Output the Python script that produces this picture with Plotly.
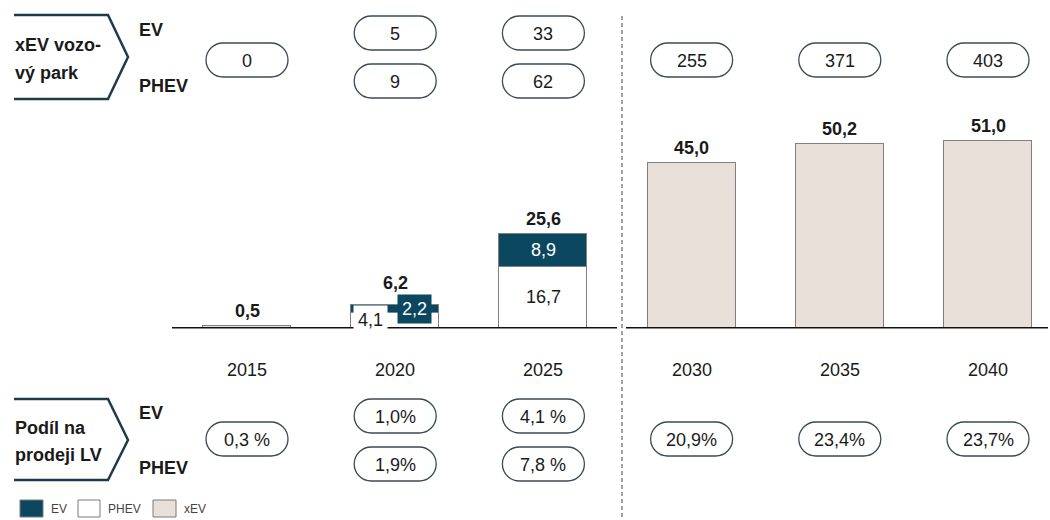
import plotly.graph_objects as go

# ---------------- data ----------------
years = ["2015", "2020", "2025", "2030", "2035", "2040"]
ev_sales = [None, 2.2, 8.9, None, None, None]
phev_sales = [None, 4.1, 16.7, None, None, None]
xev_sales = [0.5, None, None, 45.0, 50.2, 51.0]
total_sales = [0.5, 6.2, 25.6, 45.0, 50.2, 51.0]

fleet_ev = [None, 5, 33, None, None, None]
fleet_phev = [None, 9, 62, None, None, None]
fleet_xev = [0, None, None, 255, 371, 403]

share_ev = [None, "1,0%", "4,1 %", None, None, None]
share_phev = [None, "1,9%", "7,8 %", None, None, None]
share_xev = ["0,3 %", None, None, "20,9%", "23,4%", "23,7%"]

legend_names = ["EV", "PHEV", "xEV"]

# ---------------- style ----------------
W, H = 1050, 520
FONT = "Liberation Sans, Arial, sans-serif"
C_EV = "#0B4860"
C_PHEV = "#FFFFFF"
C_XEV = "#E8E0D8"
C_BORDER = "#808080"
C_DARK = "#1F3A4B"
C_TXT = "#1a1a1a"

X_STEP = 148.2          # px per category
X0_PX = 247             # px of first category
Y0_PX = 327.7           # px of baseline
Y_SCALE = 3.66          # px per unit

x_range = [-X0_PX / X_STEP, (W - X0_PX) / X_STEP]
y_range = [-(H - Y0_PX) / Y_SCALE, Y0_PX / Y_SCALE]


def fmt(v, dec=1):
    return f"{v:.{dec}f}".replace(".", ",")


def py(y):
    return 1 - y / H


def px(x):
    return x / W


xs = list(range(len(years)))
bar_w = 88 / X_STEP

fig = go.Figure()
fig.add_trace(go.Bar(x=xs, y=phev_sales, name="PHEV", width=bar_w,
                     marker=dict(color=C_PHEV, line=dict(color=C_BORDER, width=1.5)),
                     showlegend=False, hoverinfo="skip"))
fig.add_trace(go.Bar(x=xs, y=ev_sales, name="EV", width=bar_w,
                     marker=dict(color=C_EV, line=dict(color=C_BORDER, width=1.5)),
                     showlegend=False, hoverinfo="skip"))
fig.add_trace(go.Bar(x=xs, y=xev_sales, name="xEV", width=bar_w,
                     marker=dict(color=C_XEV, line=dict(color=C_BORDER, width=1.5)),
                     showlegend=False, hoverinfo="skip"))

shapes = []
ann = []

# baseline with gap at the dashed divider
shapes.append(dict(type="line", xref="paper", yref="y", x0=px(172), x1=px(617), y0=0, y1=0,
                   line=dict(color="#111", width=1.5)))
shapes.append(dict(type="line", xref="paper", yref="y", x0=px(626), x1=px(1048), y0=0, y1=0,
                   line=dict(color="#111", width=1.5)))
# dashed divider
shapes.append(dict(type="line", xref="paper", yref="paper", x0=px(622), x1=px(622), y0=py(16), y1=0,
                   line=dict(color="#666", width=1.2, dash="4px,3px")))

# chevrons
def chevron(top, tip, bottom):
    pts = [(14, top), (108, top), (128, tip), (108, bottom), (14, bottom)]
    return "M " + " L ".join(f"{px(a)},{py(b)}" for a, b in pts)

for t, tp, b in [(15, 57, 99), (399, 440, 480)]:
    shapes.append(dict(type="path", xref="paper", yref="paper", path=chevron(t, tp, b),
                       line=dict(color=C_DARK, width=2.5)))

def label(x, y, text, size=18, bold=False, color=C_TXT, xanchor="left"):
    ann.append(dict(xref="paper", yref="paper", x=px(x), y=py(y), text=f"<b>{text}</b>" if bold else text,
                    showarrow=False, xanchor=xanchor, yanchor="middle",
                    font=dict(family=FONT, size=size, color=color)))

label(13, 45, "xEV vozo-", bold=True)
label(13, 73, "vý park", bold=True)
label(13, 428, "Podíl na", bold=True)
label(13, 455, "prodeji LV", bold=True)
label(137, 30, "EV", bold=True)
label(137, 86, "PHEV", bold=True)
label(137, 413, "EV", bold=True)
label(137, 468, "PHEV", bold=True)

# pills
PW, PH = 82, 34
def pill(i, cy_px, text):
    r = PH / 2
    rx = r / X_STEP
    hx = (PW / 2 - r) / X_STEP
    k = 0.5523
    x0, x1 = i - hx, i + hx
    top, bot, cy = py(cy_px - r), py(cy_px + r), py(cy_px)
    ky = k * r / H
    kx = k * rx
    path = (f"M {x0},{top} L {x1},{top} "
            f"C {x1 + kx},{top} {x1 + rx},{cy + ky} {x1 + rx},{cy} "
            f"C {x1 + rx},{cy - ky} {x1 + kx},{bot} {x1},{bot} "
            f"L {x0},{bot} "
            f"C {x0 - kx},{bot} {x0 - rx},{cy - ky} {x0 - rx},{cy} "
            f"C {x0 - rx},{cy + ky} {x0 - kx},{top} {x0},{top} Z")
    shapes.append(dict(type="path", xref="x", yref="paper", path=path,
                       line=dict(color="#3A4B56", width=1.3), fillcolor="rgba(0,0,0,0)"))
    ann.append(dict(xref="x", yref="paper", x=i, y=py(cy_px + 1), text=str(text), showarrow=False,
                    xanchor="center", yanchor="middle", font=dict(family=FONT, size=18, color=C_TXT)))

for i in xs:
    if fleet_ev[i] is not None:
        pill(i, 33, fleet_ev[i])
    if fleet_phev[i] is not None:
        pill(i, 81, fleet_phev[i])
    if fleet_xev[i] is not None:
        pill(i, 60, fleet_xev[i])
    if share_ev[i] is not None:
        pill(i, 416, share_ev[i])
    if share_phev[i] is not None:
        pill(i, 464, share_phev[i])
    if share_xev[i] is not None:
        pill(i, 439, share_xev[i])

# year labels
for i, yr in enumerate(years):
    ann.append(dict(xref="x", yref="paper", x=i, y=py(370), text=yr, showarrow=False,
                    xanchor="center", yanchor="middle", font=dict(family=FONT, size=18, color=C_TXT)))

# segment labels
small_bar = [False] * len(xs)
for i in xs:
    if phev_sales[i] is not None and ev_sales[i] is not None:
        p, e = phev_sales[i], ev_sales[i]
        small = (p + e) < 10
        small_bar[i] = small
        ann.append(dict(xref="x", yref="y", x=i, y=p / 2, text=fmt(p), showarrow=False,
                        xanchor="center", yanchor="middle", xshift=-25 if small else 0,
                        bgcolor="#FFFFFF" if small else None, borderpad=4 if small else 1,
                        font=dict(family=FONT, size=18, color=C_TXT)))
        ann.append(dict(xref="x", yref="y", x=i, y=p + e / 2, text=fmt(e), showarrow=False,
                        xanchor="center", yanchor="middle", xshift=19 if small else 0,
                        bgcolor=C_EV if small else None, borderpad=4 if small else 1,
                        font=dict(family=FONT, size=18, color="#FFFFFF")))

# totals
for i, t in enumerate(total_sales):
    ann.append(dict(xref="x", yref="y", x=i, y=t, text=f"<b>{fmt(t)}</b>", showarrow=False,
                    xanchor="center", yanchor="bottom", yshift=10 if small_bar[i] else 3,
                    font=dict(family=FONT, size=18, color=C_TXT)))

# legend (drawn)
leg_items = [(20, 43, 49, C_EV), (78, 100, 106, C_PHEV), (153, 176, 182, C_XEV)]
for (xa, xb, xt, col), name in zip(leg_items, legend_names):
    shapes.append(dict(type="rect", xref="paper", yref="paper", x0=px(xa), x1=px(xb), y0=py(517), y1=py(500),
                       fillcolor=col, line=dict(color="#7a7a7a", width=1)))
    ann.append(dict(xref="paper", yref="paper", x=px(xt), y=py(509), text=name, showarrow=False,
                    xanchor="left", yanchor="middle", font=dict(family=FONT, size=12, color="#444")))

fig.update_layout(
    width=W, height=H, autosize=False,
    margin=dict(l=0, r=0, t=0, b=0),
    paper_bgcolor="white", plot_bgcolor="white",
    barmode="stack", bargap=0,
    xaxis=dict(range=x_range, visible=False, fixedrange=True),
    yaxis=dict(range=y_range, visible=False, fixedrange=True),
    shapes=shapes, annotations=ann, showlegend=False,
    font=dict(family=FONT),
)

fig.write_html("out.html", config={"displayModeBar": False},
               post_script="document.body.style.margin='0';document.body.style.overflow='hidden';")
